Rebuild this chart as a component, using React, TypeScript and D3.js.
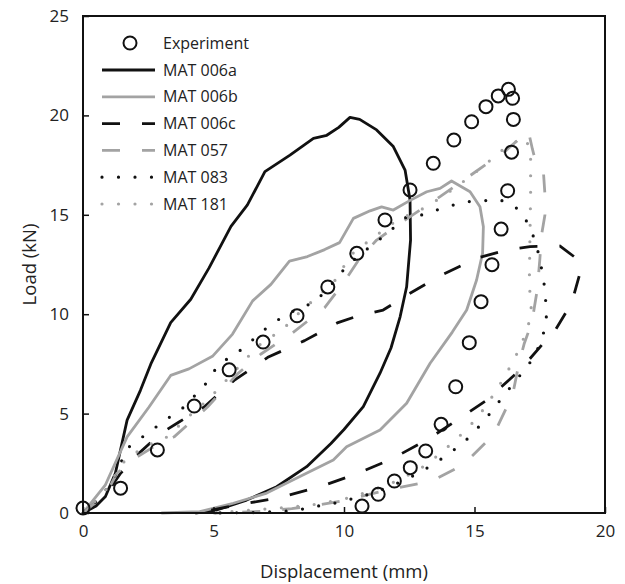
import { useEffect, useRef } from 'react';
import * as d3 from 'd3';

// Experiment points (mm, kN)
const expX = [0, 1.44, 2.85, 4.26, 5.6, 6.9, 8.2, 9.38, 10.49, 11.57, 12.53, 13.42, 14.21, 14.89, 15.44, 15.91, 16.3, 16.46, 16.49, 16.42, 16.27, 16.02, 15.67, 15.25, 14.8, 14.28, 13.72, 13.13, 12.54, 11.93, 11.31, 10.69];
const expY = [0.25, 1.25, 3.17, 5.38, 7.2, 8.6, 9.92, 11.37, 13.06, 14.74, 16.25, 17.59, 18.76, 19.68, 20.44, 20.98, 21.31, 20.86, 19.8, 18.15, 16.21, 14.28, 12.49, 10.63, 8.57, 6.35, 4.46, 3.12, 2.28, 1.61, 0.94, 0.35];

// simulation curves: [displacement, load]
const mat006a: [number, number][] = [
  [0, 0], [0.5, 0.35], [0.86, 0.83], [1.24, 2.0], [1.69, 4.67], [2.2, 6.17], [2.6, 7.5], [3.36, 9.58], [4.13, 10.75],
  [4.83, 12.33], [5.67, 14.42], [6.3, 15.5], [6.97, 17.17], [7.93, 18.0], [8.83, 18.85], [9.34, 19.0], [9.8, 19.4],
  [10.23, 19.9], [10.6, 19.8], [11.25, 19.27], [11.89, 18.43], [12.34, 17.25], [12.53, 15.74], [12.55, 13.73],
  [12.4, 11.38], [12.15, 9.87], [11.8, 8.3], [11.38, 7.03], [10.74, 5.35], [10.0, 4.2], [9.5, 3.5], [8.57, 2.33],
  [7.42, 1.32], [6.27, 0.65], [5.12, 0.15], [4.3, 0]
];
const mat006b: [number, number][] = [
  [0, 0], [0.86, 1.42], [1.69, 3.83], [2.53, 5.33], [3.36, 6.92], [4.06, 7.25], [4.96, 7.88], [5.73, 9.0], [6.5, 10.67],
  [7.2, 11.5], [7.91, 12.67], [8.6, 12.9], [9.26, 13.25], [9.83, 13.6], [10.36, 14.82], [11.0, 15.2], [11.44, 15.4],
  [11.89, 15.24], [12.5, 15.7], [13.17, 16.16], [13.68, 16.33], [14.12, 16.7], [14.83, 16.16], [15.21, 15.4],
  [15.34, 14.4], [15.31, 13.06], [15.08, 11.72], [14.7, 10.21], [14.15, 9.1], [13.3, 7.53], [12.4, 5.52],
  [11.38, 4.17], [10.1, 3.33], [9.59, 2.67], [8.31, 1.83], [7.04, 1.0], [5.76, 0.49], [4.48, 0.07], [3.0, 0]
];
const mat006c: [number, number][] = [
  [0, 0], [0.92, 1.0], [1.44, 2.0], [2.14, 3.0], [2.97, 4.0], [3.68, 4.58], [4.64, 5.33], [5.79, 6.67], [7.08, 7.83],
  [8.49, 8.67], [9.77, 9.58], [10.5, 9.9], [11.5, 10.21], [12.53, 11.05], [13.74, 11.97], [15.08, 12.81],
  [16.23, 13.23], [17.13, 13.4], [18.28, 13.43], [18.98, 12.73], [19.04, 12.06], [18.72, 10.55], [18.02, 9.04],
  [17.64, 8.54], [16.74, 7.19], [15.47, 5.68], [14.44, 4.76], [13.17, 3.67], [11.76, 2.67], [10.36, 1.91],
  [9.08, 1.32], [7.42, 0.74], [5.89, 0.4], [4.61, 0.07], [4.2, 0]
];
const mat057: [number, number][] = [
  [0, 0], [0.9, 1.0], [1.3, 2.0], [2.08, 2.83], [2.8, 3.4], [3.49, 3.83], [4.77, 5.33], [5.92, 7.0], [6.82, 8.0],
  [7.97, 9.0], [9.26, 10.33], [9.97, 11.55], [10.6, 12.8], [11.25, 13.73], [12.15, 14.57], [13.68, 15.91],
  [14.96, 17.09], [16.23, 18.26], [17.06, 19.23], [17.22, 18.3], [17.3, 17.9], [17.64, 17.17], [17.7, 16.0],
  [17.7, 15.0], [17.57, 14.0], [17.5, 12.7], [17.4, 11.2], [17.2, 9.6], [16.9, 8.5], [16.7, 7.5], [16.5, 6.2],
  [16.3, 5.5], [15.85, 4.26], [15.47, 3.59], [14.83, 2.77], [14.32, 2.26], [13.55, 1.74], [12.9, 1.49],
  [12.0, 1.25], [11.0, 0.95], [10.0, 0.62], [9.0, 0.4], [8.0, 0.22], [7.0, 0.1], [6.0, 0.03], [5.0, 0]
];
const mat083: [number, number][] = [
  [0, 0], [0.7, 0.8], [1.2, 1.8], [1.44, 2.5], [1.69, 3.25], [2.2, 3.75], [2.72, 4.25], [3.23, 4.75], [3.74, 5.17],
  [4.2, 5.8], [4.58, 6.25], [4.9, 6.92], [5.28, 7.58], [5.79, 7.92], [6.24, 8.42], [6.76, 9.0], [7.2, 9.5],
  [7.73, 9.92], [8.3, 10.33], [8.88, 10.58], [9.3, 11.2], [9.71, 11.75], [10.09, 12.42], [11.0, 13.4], [11.5, 13.9],
  [12.4, 14.9], [12.97, 14.99], [13.55, 15.24], [14.19, 15.49], [14.76, 15.66], [15.4, 15.71], [15.91, 15.78],
  [16.49, 15.49], [16.87, 14.99], [17.16, 14.24], [17.38, 13.48], [17.51, 12.64], [17.64, 11.89], [17.7, 11.05],
  [17.76, 10.21], [17.74, 9.4], [17.32, 7.9], [16.93, 7.23], [16.55, 6.6], [16.17, 5.99], [15.79, 5.35], [15.4, 4.68],
  [14.98, 4.07], [14.55, 3.5], [14.03, 3.0], [13.52, 2.53], [12.99, 2.11], [12.45, 1.73], [11.89, 1.41], [11.31, 1.11],
  [10.68, 0.82], [10.1, 0.65], [9.53, 0.46], [8.89, 0.33], [8.31, 0.17], [7.7, 0.08], [6.5, 0.02], [5.0, 0]
];
const mat181: [number, number][] = [
  [0, 0], [0.8, 1.0], [1.5, 2.5], [2.3, 3.3], [3.23, 3.83], [4.0, 4.8], [4.83, 5.75], [5.6, 6.83], [6.2, 7.7],
  [6.88, 8.6], [7.6, 9.17], [8.36, 10.17], [9.0, 10.9], [9.64, 11.67], [10.28, 13.0], [11.06, 13.8], [12.0, 14.7],
  [13.17, 15.4], [14.2, 16.3], [15.2, 17.3], [16.2, 18.4], [16.9, 18.9], [17.15, 18.3], [17.15, 16.0], [17.12, 13.5],
  [17.1, 11.5], [17.19, 10.0], [16.95, 9.0], [16.7, 8.2], [16.3, 7.2], [15.9, 6.3], [15.4, 5.3], [14.9, 4.5],
  [14.3, 3.7], [13.6, 2.9], [12.9, 2.2], [12.0, 1.6], [11.0, 1.1], [10.0, 0.7], [9.0, 0.45], [8.0, 0.3], [7.0, 0.2],
  [6.0, 0.1], [5.0, 0]
];

const xTicks = [0, 5, 10, 15, 20];
const yTicks = [0, 5, 10, 15, 20, 25];

const GRAY = '#a3a3a3';
const FONT = '"Open Sans", sans-serif';

const SERIES = [
  { name: 'MAT 006a', data: mat006a, color: '#111', dash: null },
  { name: 'MAT 006b', data: mat006b, color: GRAY, dash: null },
  { name: 'MAT 006c', data: mat006c, color: '#111', dash: '18 22' },
  { name: 'MAT 057', data: mat057, color: GRAY, dash: '18 22' },
  { name: 'MAT 083', data: mat083, color: '#111', dash: '0 16.5' },
  { name: 'MAT 181', data: mat181, color: GRAY, dash: '0 16.5' }
];

function App() {
  const svgRef = useRef<SVGSVGElement>(null);

  useEffect(() => {
    const svg = d3.select(svgRef.current);
    svg.selectAll('*').remove();

    const W = 625, H = 584;
    const left = 83, right = 605, top = 16, bottom = 513;

    const x = d3.scaleLinear().domain([0, 20]).range([left, right]);
    const y = d3.scaleLinear().domain([0, 25]).range([bottom, top]);

    svg.attr('width', W).attr('height', H);

    // curves
    const line = d3.line<[number, number]>()
      .x(d => x(d[0]))
      .y(d => y(d[1]));

    SERIES.forEach(s => {
      const isDot = s.dash && s.dash.startsWith('0');
      svg.append('path')
        .datum(s.data)
        .attr('fill', 'none')
        .attr('stroke', s.color)
        .attr('stroke-width', isDot ? 3.2 : 2.8)
        .attr('stroke-linecap', isDot ? 'round' : 'butt')
        .attr('stroke-linejoin', 'round')
        .attr('stroke-dasharray', s.dash)
        .attr('d', line);
    });

    // experiment
    svg.append('g').selectAll('circle')
      .data(expX.map((v, i) => [v, expY[i]]))
      .enter().append('circle')
      .attr('cx', d => x(d[0]))
      .attr('cy', d => y(d[1]))
      .attr('r', 6.5)
      .attr('fill', 'none')
      .attr('stroke', '#111')
      .attr('stroke-width', 2);

    // frame + axes
    svg.append('rect')
      .attr('x', left).attr('y', top)
      .attr('width', right - left).attr('height', bottom - top)
      .attr('fill', 'none').attr('stroke', '#111').attr('stroke-width', 2);

    const gx = svg.append('g')
      .attr('transform', `translate(0,${bottom})`)
      .call(d3.axisBottom(x).tickValues(xTicks).tickSize(-6).tickPadding(12).tickFormat(d3.format('d')));
    gx.select('.domain').remove();
    gx.selectAll('line').attr('stroke', '#111').attr('stroke-width', 1.5);
    gx.selectAll('text').style('font-family', FONT).style('font-size', '17px').attr('fill', '#222');

    const gy = svg.append('g')
      .attr('transform', `translate(${left},0)`)
      .call(d3.axisLeft(y).tickValues(yTicks).tickSize(-6).tickPadding(14).tickFormat(d3.format('d')));
    gy.select('.domain').remove();
    gy.selectAll('line').attr('stroke', '#111').attr('stroke-width', 1.5);
    gy.selectAll('text').style('font-family', FONT).style('font-size', '17px').attr('fill', '#222');

    svg.append('text')
      .attr('x', (left + right) / 2).attr('y', 578)
      .attr('text-anchor', 'middle')
      .style('font-family', FONT).style('font-size', '18.5px').attr('fill', '#222')
      .text('Displacement (mm)');

    svg.append('text')
      .attr('transform', `translate(36,${(top + bottom) / 2}) rotate(-90)`)
      .attr('text-anchor', 'middle')
      .style('font-family', FONT).style('font-size', '18.5px').attr('fill', '#222')
      .text('Load (kN)');

    // legend
    const lg = svg.append('g');
    lg.append('circle')
      .attr('cx', 130).attr('cy', 43).attr('r', 6.5)
      .attr('fill', 'none').attr('stroke', '#111').attr('stroke-width', 2);
    lg.append('text')
      .attr('x', 163).attr('y', 43).attr('dy', '0.35em')
      .style('font-family', FONT).style('font-size', '16px').attr('fill', '#222')
      .text('Experiment');

    SERIES.forEach((s, i) => {
      const ly = 70 + i * 26.8;
      const isDot = s.dash && s.dash.startsWith('0');
      lg.append('line')
        .attr('x1', 102).attr('x2', 155).attr('y1', ly).attr('y2', ly)
        .attr('stroke', s.color)
        .attr('stroke-width', isDot ? 3.2 : 2.8)
        .attr('stroke-linecap', isDot ? 'round' : 'butt')
        .attr('stroke-dasharray', s.dash);
      lg.append('text')
        .attr('x', 163).attr('y', ly).attr('dy', '0.35em')
        .style('font-family', FONT).style('font-size', '16px').attr('fill', '#222')
        .text(s.name);
    });
  }, []);

  return <svg ref={svgRef} style={{ position: 'absolute', left: 0, top: 0 }} />;
}

export default App;
